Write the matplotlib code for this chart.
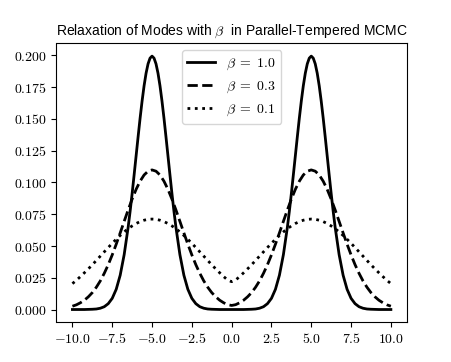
import matplotlib
matplotlib.use("Agg")
import matplotlib.pyplot as plt
from matplotlib.ticker import FuncFormatter

plt.rcParams['mathtext.fontset'] = 'cm'

# grid of x values, step 0.25 from -10 to 10
x = [-10 + 0.25 * i for i in range(81)]

# beta = 1.0 (read with finer spacing around the two sharp peaks)
x_b10 = [-10.0, -9.75, -9.5, -9.25, -9.0, -8.75, -8.5, -8.25, -8.0, -7.75, -7.5, -7.25, -7.0, -6.75,
         -6.5, -6.375, -6.25, -6.125, -6.0, -5.875, -5.75, -5.625, -5.5, -5.375, -5.25, -5.125,
         -5.0, -4.875, -4.75, -4.625, -4.5, -4.375, -4.25, -4.125, -4.0, -3.875, -3.75, -3.625, -3.5,
         -3.25, -3.0, -2.75, -2.5, -2.25, -2.0, -1.75, -1.5, -1.25, -1.0, -0.75, -0.5, -0.25,
         0.0,
         0.25, 0.5, 0.75, 1.0, 1.25, 1.5, 1.75, 2.0, 2.25, 2.5, 2.75, 3.0, 3.25,
         3.5, 3.625, 3.75, 3.875, 4.0, 4.125, 4.25, 4.375, 4.5, 4.625, 4.75, 4.875,
         5.0, 5.125, 5.25, 5.375, 5.5, 5.625, 5.75, 5.875, 6.0, 6.125, 6.25, 6.375, 6.5,
         6.75, 7.0, 7.25, 7.5, 7.75, 8.0, 8.25, 8.5, 8.75, 9.0, 9.25, 9.5, 9.75, 10.0]
y_b10 = [0.0, 0.0, 0.0, 0.0, 0.0001, 0.0002, 0.0004, 0.0010, 0.0022, 0.0046, 0.0088, 0.0159, 0.0270, 0.0432,
         0.0648, 0.0775, 0.0913, 0.1060, 0.1210, 0.1360, 0.1506, 0.1641, 0.1761, 0.1860, 0.1934, 0.1979,
         0.1995, 0.1979, 0.1934, 0.1860, 0.1761, 0.1641, 0.1506, 0.1360, 0.1210, 0.1060, 0.0913, 0.0775, 0.0648,
         0.0432, 0.0270, 0.0159, 0.0088, 0.0046, 0.0022, 0.0010, 0.0004, 0.0002, 0.0001, 0.0, 0.0, 0.0,
         0.0,
         0.0, 0.0, 0.0, 0.0001, 0.0002, 0.0004, 0.0010, 0.0022, 0.0046, 0.0088, 0.0159, 0.0270, 0.0432,
         0.0648, 0.0775, 0.0913, 0.1060, 0.1210, 0.1360, 0.1506, 0.1641, 0.1761, 0.1860, 0.1934, 0.1979,
         0.1995, 0.1979, 0.1934, 0.1860, 0.1761, 0.1641, 0.1506, 0.1360, 0.1210, 0.1060, 0.0913, 0.0775, 0.0648,
         0.0432, 0.0270, 0.0159, 0.0088, 0.0046, 0.0022, 0.0010, 0.0004, 0.0002, 0.0001, 0.0, 0.0, 0.0, 0.0]

# beta = 0.3
y_b03 = [0.0026, 0.0037, 0.0053, 0.0073, 0.0100, 0.0133, 0.0175, 0.0225, 0.0285, 0.0353,
         0.0430, 0.0514, 0.0603, 0.0694, 0.0784, 0.0869, 0.0946, 0.1010, 0.1059, 0.1089,
         0.1099,
         0.1089, 0.1059, 0.1010, 0.0946, 0.0869, 0.0784, 0.0694, 0.0603, 0.0514, 0.0430,
         0.0353, 0.0285, 0.0225, 0.0175, 0.0133, 0.0100, 0.0073, 0.0053, 0.0038,
         0.0032,
         0.0038, 0.0053, 0.0073, 0.0100, 0.0133, 0.0175, 0.0225, 0.0285, 0.0353, 0.0430,
         0.0514, 0.0603, 0.0694, 0.0784, 0.0869, 0.0946, 0.1010, 0.1059, 0.1089,
         0.1099,
         0.1089, 0.1059, 0.1010, 0.0946, 0.0869, 0.0784, 0.0694, 0.0603, 0.0514, 0.0430,
         0.0353, 0.0285, 0.0225, 0.0175, 0.0133, 0.0100, 0.0073, 0.0053, 0.0037, 0.0026]

# beta = 0.1
y_b01 = [0.0204, 0.0230, 0.0259, 0.0289, 0.0320, 0.0352, 0.0386, 0.0420, 0.0454, 0.0488,
         0.0521, 0.0553, 0.0583, 0.0611, 0.0636, 0.0658, 0.0677, 0.0692, 0.0703, 0.0710,
         0.0712,
         0.0710, 0.0703, 0.0692, 0.0677, 0.0658, 0.0636, 0.0611, 0.0583, 0.0553, 0.0521,
         0.0488, 0.0454, 0.0420, 0.0386, 0.0352, 0.0320, 0.0289, 0.0259, 0.0232,
         0.0219,
         0.0232, 0.0259, 0.0289, 0.0320, 0.0352, 0.0386, 0.0420, 0.0454, 0.0488, 0.0521,
         0.0553, 0.0583, 0.0611, 0.0636, 0.0658, 0.0677, 0.0692, 0.0703, 0.0710,
         0.0712,
         0.0710, 0.0703, 0.0692, 0.0677, 0.0658, 0.0636, 0.0611, 0.0583, 0.0553, 0.0521,
         0.0488, 0.0454, 0.0420, 0.0386, 0.0352, 0.0320, 0.0289, 0.0259, 0.0230, 0.0204]

fig, ax = plt.subplots(figsize=(4.52, 3.62), dpi=100)
ax.plot(x_b10, y_b10, 'k-', lw=2, solid_joinstyle='round', label=r'$\beta\;=\;1.0$')
ax.plot(x, y_b03, 'k--', lw=2, label=r'$\beta\;=\;0.3$')
ax.plot(x, y_b01, 'k:', lw=2, label=r'$\beta\;=\;0.1$')

ax.set_xticks([-10, -7.5, -5, -2.5, 0, 2.5, 5, 7.5, 10])
ax.set_yticks([0, 0.025, 0.05, 0.075, 0.1, 0.125, 0.15, 0.175, 0.2])
ax.xaxis.set_major_formatter(FuncFormatter(lambda v, p: r'$%.1f$' % v))
ax.yaxis.set_major_formatter(FuncFormatter(lambda v, p: r'$%.3f$' % v))

ax.set_title(r'Relaxation of Modes with $\beta$  in Parallel-Tempered MCMC',
             fontsize=10, family='Liberation Sans')
ax.legend(loc='upper center')

fig.savefig('out.png', dpi=100)
